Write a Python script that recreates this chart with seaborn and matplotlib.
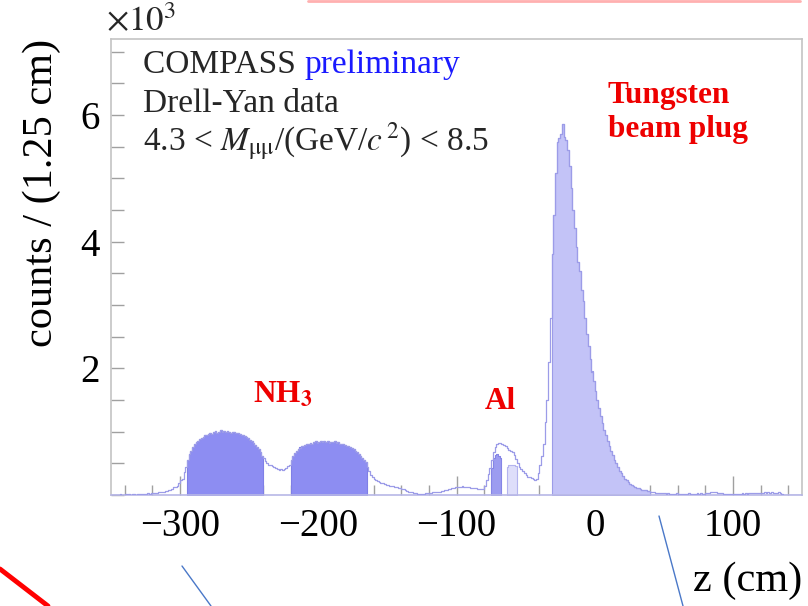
import numpy as np
import pandas as pd
import matplotlib
matplotlib.use("Agg")
import matplotlib.pyplot as plt
import seaborn as sns
from matplotlib.lines import Line2D
from matplotlib.ticker import MultipleLocator, FixedLocator, FuncFormatter

# ---------------- data ----------------
Z_MIN, Z_MAX, BIN_W = -350.0, 150.0, 1.25

# total counts per 1.25 cm bin, from z = -350 cm upward
counts = [
    # -350 .. -320
    0, 0, 5, 0, 5, 10, 5, 0, 10, 5, 10, 5, 15, 10, 5, 10, 15, 10, 20, 15, 20, 25, 20, 30,
    # -320 .. -295
    30, 35, 35, 45, 40, 50, 55, 60, 70, 80, 85, 100, 120, 125, 150, 190, 240, 260, 370, 450,
    # -295 .. -240  (first NH3 cell)
    560, 640, 700, 760, 800, 830, 860, 880, 900, 920, 940, 950, 970, 980, 960, 990, 1010, 985,
    1000, 1020, 990, 1005, 995, 1010, 1000, 985, 1000, 990, 975, 985, 960, 955, 940, 930, 910,
    895, 870, 850, 820, 790, 760, 720, 680, 610,
    # -240 .. -220
    580, 540, 500, 480, 470, 455, 440, 420, 410, 400, 405, 395, 410, 430, 460, 480,
    # -220 .. -165  (second NH3 cell)
    560, 610, 660, 700, 730, 750, 770, 780, 790, 800, 810, 820, 800, 830, 845, 820, 840, 860,
    830, 845, 835, 850, 825, 840, 830, 845, 820, 830, 810, 800, 805, 790, 780, 770, 755, 740,
    720, 700, 680, 650, 620, 590, 560, 520,
    # -165 .. -140
    440, 380, 320, 280, 250, 230, 215, 200, 195, 185, 175, 165, 155, 150, 140, 135, 125, 120, 115, 110,
    # -140 .. -80
    100, 90, 80, 65, 55, 45, 40, 30, 25, 20, 15, 15, 20, 20, 25, 30, 30, 35, 40, 45,
    45, 50, 55, 65, 70, 80, 85, 95, 100, 110, 115, 120, 125, 130, 130, 135, 130, 125, 125, 120,
    115, 110, 110, 105, 100, 100, 95, 95,
    # -80 .. -31.25  (Al region and rise to the plug)
    150, 240, 330, 430, 560, 680, 760, 800, 820, 820, 810, 790, 770, 740, 710, 700, 680, 630,
    570, 510, 450, 410, 375, 345, 310, 290, 280, 270, 250, 236, 260, 345, 470, 620, 800, 1150,
    1500, 2100, 2800,
    # -31.25 .. 50  (tungsten beam plug)
    3810, 4420, 5080, 5570, 5630, 5700, 5850, 5650, 5600, 5450, 5200, 4850, 4500, 4220, 3920,
    3680, 3540, 3230, 3060, 2800, 2550, 2350, 2150, 1950, 1800, 1640, 1500, 1370, 1240, 1130,
    1020, 940, 860, 780, 700, 630, 560, 500, 440, 380, 340, 300, 260, 230, 200, 180, 160, 145,
    130, 115, 105, 95, 85, 80, 75, 70, 65, 50, 45, 40, 35, 35, 30, 30, 28,
    # 50 .. 150
    25, 20, 25, 20, 20, 15, 20, 25, 20, 15, 20, 20, 15, 20, 25, 20, 15, 20, 20, 25,
    20, 25, 20, 20, 25, 30, 35, 40, 45, 40, 45, 35, 30, 25, 20, 15, 15, 10, 10, 15,
    15, 10, 15, 20, 20, 25, 20, 25, 20, 25, 30, 25, 30, 25, 30, 35, 30, 35, 40, 35,
    40, 35, 40, 35, 30, 35, 40, 30, 10, 0, 0, 0, 0, 0, 0, 0, 0, 0, 0, 0,
]

# aluminium target contributions (own histograms)
al_main = [430, 590, 630, 640, 610, 590]
al_main_range = (-75.0, -67.5)
al_side = [440, 475, 480, 470, 475, 460]
al_side_range = (-63.75, -56.25)

nh3_cells = [(-295.0, -240.0), (-220.0, -165.0)]
w_plug = (-31.25, 40.0)

x_ticks = [-300, -200, -100, 0, 100]
y_ticks = [0, 2000, 4000, 6000]

# ---------------- style ----------------
sns.set_theme(style="white")
plt.rcParams["font.family"] = ["Liberation Serif", "DejaVu Serif"]
plt.rcParams["mathtext.fontset"] = "stix"

W, H = 808, 606
fig = plt.figure(figsize=(W / 100, H / 100), dpi=100)
ax = fig.add_axes([111 / W, 1 - 495 / H, 691 / W, 456 / H])

edges = Z_MIN + BIN_W * np.arange(len(counts) + 1)
centers = edges[:-1] + BIN_W / 2
df = pd.DataFrame({"z": centers, "counts": counts})


def fill_region(lo, hi, face, edge, values=None):
    if values is None:
        sub = df[(df.z > lo) & (df.z < hi)]
    else:
        n = len(values)
        sub = pd.DataFrame({"z": lo + BIN_W * (np.arange(n) + 0.5), "counts": values})
    sns.histplot(data=sub, x="z", weights="counts", binwidth=BIN_W, binrange=(lo, hi),
                 element="step", fill=True, color=face, alpha=1, edgecolor=edge,
                 linewidth=0.8, ax=ax, zorder=2)


# filled target regions
fill_region(*w_plug, face="#c3c3f7", edge="#9c9ce8")
for lo, hi in nh3_cells:
    fill_region(lo, hi, face="#8d8df2", edge="#7f7fe6")
fill_region(*al_main_range, face="#9c9cf0", edge="#8585e6", values=al_main)
fill_region(*al_side_range, face="#dedefa", edge="#b4b4ee", values=al_side)

# total distribution outline
sns.histplot(data=df, x="z", weights="counts", binwidth=BIN_W, binrange=(Z_MIN, Z_MAX),
             element="step", fill=False, color="#9c9ce8", linewidth=0.9, ax=ax, zorder=3)

ax.set_xlim(Z_MIN, Z_MAX)
ax.set_ylim(0, 7200)

# ticks
ax.xaxis.set_major_locator(FixedLocator(x_ticks))
ax.xaxis.set_minor_locator(MultipleLocator(20))
ax.yaxis.set_major_locator(FixedLocator(y_ticks))
ax.yaxis.set_minor_locator(MultipleLocator(500))
ax.yaxis.set_major_formatter(FuncFormatter(lambda v, p: "" if v == 0 else f"{v/1000:g}"))
ax.xaxis.set_major_formatter(FuncFormatter(lambda v, p: f"{v:g}".replace("-", "\u2212")))
ax.tick_params(axis="x", which="major", direction="in", length=14, width=1,
               color="#a0a0a0", labelsize=28, pad=9, bottom=True, top=False)
ax.tick_params(axis="x", which="minor", direction="in", length=7, width=1,
               color="#a0a0a0", bottom=True, top=False)
ax.tick_params(axis="y", which="major", direction="in", length=9, width=1,
               color="#a0a0a0", labelsize=28, pad=8, left=True, right=False)
ax.tick_params(axis="y", which="minor", direction="in", length=9, width=1,
               color="#a0a0a0", left=True, right=False)
for lab in ax.get_xticklabels() + ax.get_yticklabels():
    lab.set_color("black")

for s in ax.spines.values():
    s.set_color("#c4c4c4")
    s.set_linewidth(1.2)
ax.spines["bottom"].set_color("#b8b8e6")

ax.set_xlabel("z (cm)", fontsize=30.5, loc="right", color="black")
ax.xaxis.set_label_coords(1.0, -0.145)
ax.set_ylabel("counts / (1.25 cm)", fontsize=30.5, loc="top", color="black")
ax.yaxis.set_label_coords(-0.072, 1.0)


def fx(x):
    return x / W


def fy(y):
    return 1 - y / H


fig.text(fx(106), fy(31), r"$\times10^{3}$", fontsize=25, ha="left", va="baseline")

# info block
t1 = fig.text(fx(143), fy(73), "COMPASS ", fontsize=24, ha="left", va="baseline")
fig.canvas.draw()
bb = t1.get_window_extent()
fig.text(bb.x1 / W, fy(73), "preliminary", fontsize=24, ha="left", va="baseline",
         color="#1a1aff")
fig.text(fx(143), fy(112), "Drell-Yan data", fontsize=24, ha="left", va="baseline")
fig.text(fx(143), fy(151), r"4.3 < $M_{\mathrm{μμ}}$/(GeV/$c^{\,2}$) < 8.5", fontsize=24,
         ha="left", va="baseline")

# red target annotations
red = "#ee0000"
fig.text(fx(253), fy(403), r"NH$_\mathbf{3}$", fontsize=22.5, fontweight="bold", color=red,
         ha="left", va="baseline")
fig.text(fx(485), fy(409), "Al", fontsize=22.5, fontweight="bold", color=red,
         ha="left", va="baseline")
fig.text(fx(608), fy(103), "Tungsten", fontsize=22.5, fontweight="bold", color=red,
         ha="left", va="baseline")
fig.text(fx(608), fy(137), "beam plug", fontsize=22.5, fontweight="bold", color=red,
         ha="left", va="baseline")

# slide decorations visible around the chart
fig.add_artist(Line2D([fx(308), fx(800)], [fy(1), fy(1)], color="#ffb0b0", lw=2))
fig.add_artist(Line2D([fx(0), fx(48)], [fy(569), fy(606)], color="red", lw=3.5))
fig.add_artist(Line2D([fx(182), fx(211)], [fy(566), fy(606)], color="#4a78c8", lw=1))
fig.add_artist(Line2D([fx(659), fx(683)], [fy(516), fy(606)], color="#4a78c8", lw=1))

fig.savefig("out.png", dpi=100)
